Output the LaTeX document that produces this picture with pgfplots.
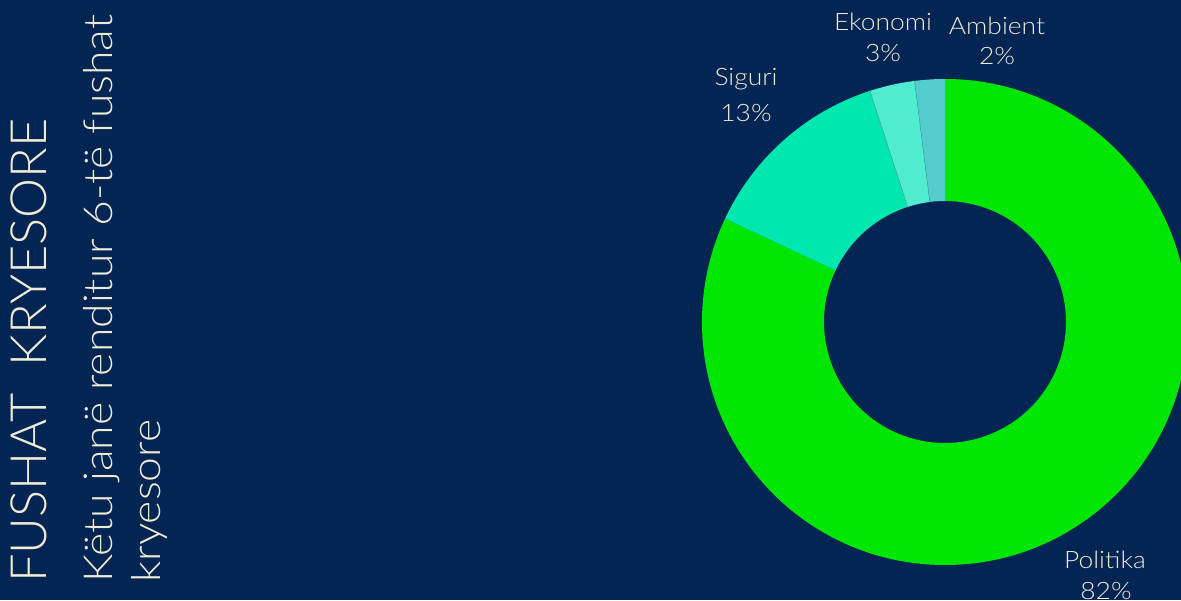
\documentclass[border=0pt]{standalone}
\usepackage{pgfplots}
\pgfplotsset{compat=1.18}
\usepackage{pgfplotstable}
\usepackage{fontspec}
\setmainfont{Lato}
\newfontfamily\lightfont{Lato Light}
\definecolor{bg}{HTML}{022554}
\definecolor{txt}{HTML}{F0EBD6}
\definecolor{cPol}{HTML}{00E600}
\definecolor{cSig}{HTML}{00E8B0}
\definecolor{cEko}{HTML}{50ECD0}
\definecolor{cAmb}{HTML}{55CCCC}
\definecolor{seam}{HTML}{3AAFB0}
\pgfplotstableread{
label value
Politika 82
Siguri 13
Ekonomi 3
Ambient 2
}\shares
\newcommand\sector[3]{%
  \fill[#3] (axis cs:945,278) ++(#1:243pt) arc[start angle=#1,end angle=#2,radius=243pt]
    -- ([shift={(#2:121pt)}]axis cs:945,278) arc[start angle=#2,end angle=#1,radius=121pt] -- cycle;}
\newcommand\seam[1]{%
  \draw[seam, line width=0.6pt] ([shift={(#1:121pt)}]axis cs:945,278) -- ([shift={(#1:243pt)}]axis cs:945,278);}
\newcommand\lab[1]{\scalebox{1.1}[1]{#1}}
\begin{document}
\pgfplotstablegetelem{0}{value}\of\shares \edef\vA{\pgfplotsretval}%
\pgfplotstablegetelem{1}{value}\of\shares \edef\vB{\pgfplotsretval}%
\pgfplotstablegetelem{2}{value}\of\shares \edef\vC{\pgfplotsretval}%
\pgfplotstablegetelem{3}{value}\of\shares \edef\vD{\pgfplotsretval}%
\pgfmathsetmacro\aA{90}%
\pgfmathsetmacro\aB{\aA-3.6*\vA}%
\pgfmathsetmacro\aC{\aB-3.6*\vB}%
\pgfmathsetmacro\aD{\aC-3.6*\vC}%
\pgfmathsetmacro\aE{\aD-3.6*\vD}%
\begin{tikzpicture}
\useasboundingbox (0,0) rectangle (1181pt,600pt);
\clip (0,0) rectangle (1181pt,600pt);
\fill[bg] (0,0) rectangle (1181pt,600pt);
\begin{axis}[
  at={(0pt,0pt)}, anchor=south west,
  width=1181pt, height=600pt, scale only axis,
  xmin=0, xmax=1181, ymin=0, ymax=600,
  hide axis, clip=false]
  \sector{\aA}{\aB}{cPol}
  \sector{\aB}{\aC}{cSig}
  \sector{\aC}{\aD}{cEko}
  \sector{\aD}{\aE}{cAmb}
  \seam{\aC}
  \seam{\aD}
  \begin{scope}[every node/.style={text=txt, font=\lightfont\fontsize{24}{28}\selectfont, anchor=base, inner sep=0pt}]
  \node at (axis cs:883,569) {\lab{Ekonomi}};
  \node at (axis cs:883,538) {\lab{3\%}};
  \node at (axis cs:997,565) {\lab{Ambient}};
  \node at (axis cs:997,535) {\lab{2\%}};
  \node at (axis cs:746,514) {\lab{Siguri}};
  \node at (axis cs:746,478) {\lab{13\%}};
  \node at (axis cs:1105,31) {\lab{Politika}};
  \node at (axis cs:1106,1) {\lab{82\%}};
  \end{scope}
  \node[rotate=90, anchor=base west, inner sep=0pt, text=txt, font=\lightfont\fontsize{50}{60}\selectfont] at (axis cs:47,17) {\scalebox{1.01}[1]{FUSHAT\ \ KRYESORE}};
  \node[rotate=90, anchor=base west, inner sep=0pt, text=txt, font=\lightfont\fontsize{40}{48}\selectfont] at (axis cs:112,17) {\scalebox{1.11}[1]{Këtu janë renditur 6-të fushat}};
  \node[rotate=90, anchor=base west, inner sep=0pt, text=txt, font=\lightfont\fontsize{40}{48}\selectfont] at (axis cs:160,17) {\scalebox{1.11}[1]{kryesore}};
\end{axis}
\end{tikzpicture}
\end{document}
